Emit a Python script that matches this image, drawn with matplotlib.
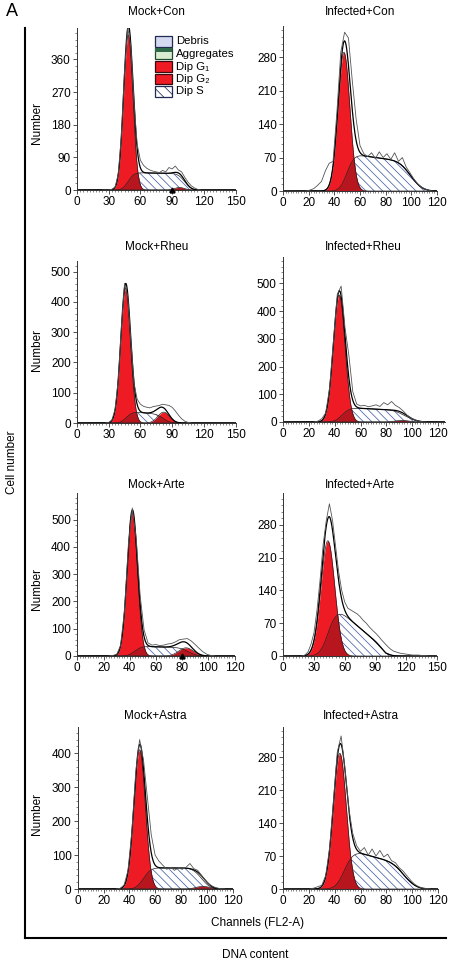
from math import erf

import numpy as np
import matplotlib.pyplot as plt
from matplotlib.patches import Rectangle
from matplotlib.lines import Line2D
from matplotlib.ticker import MultipleLocator, AutoMinorLocator

plt.rcParams['font.family'] = ['Liberation Sans', 'DejaVu Sans']
plt.rcParams['hatch.linewidth'] = 0.55

W, H = 450, 968

titles = ["Mock+Con", "Infected+Con", "Mock+Rheu", "Infected+Rheu",
          "Mock+Arte", "Infected+Arte", "Mock+Astra", "Infected+Astra"]

# axis ranges / tick steps
x_max = [150, 120, 150, 125, 120, 150, 120, 120]
x_step = [30, 20, 30, 20, 20, 30, 20, 20]
y_max = [448, 345, 535, 595, 598, 348, 477, 344]
y_step = [90, 70, 100, 100, 100, 70, 100, 70]

# model fit: G1 and G2 peaks (mean channel, height, sd)
g1 = [(48.5, 428, 4.4), (47.5, 290, 4.6), (46, 445, 4.6), (43.5, 458, 4.5),
      (42, 525, 3.9), (43.5, 246, 6.7), (48, 410, 4.4), (44, 288, 5.0)]
g2 = [(97, 7, 4.5), (100, 0, 5), (82, 36, 5.5), (92, 6, 5),
      (83, 30, 5.5), (95, 0, 5), (97, 8, 5), (95, 0, 5)]
# S phase: start ch, end ch, level at start, level at end, rise sd, fall sd
s_phase = [(48.5, 102, 48, 45, 4.4, 5), (50, 100, 78, 60, 4.5, 7),
           (47, 82, 38, 28, 4.5, 5), (46, 95, 52, 42, 4.5, 7),
           (44, 85, 36, 30, 4, 5), (45, 100, 115, 13, 7, 5),
           (51, 96, 62, 62, 4.5, 5.5), (48, 95, 85, 50, 5.5, 7)]

# raw histogram counts, every 3 channels from raw_start
raw_start = [24, 18, 27, 24, 24, 18, 30, 21]
raw_counts = [
    [0, 0, 0, 2, 8, 43, 150, 330, 448, 395, 239, 125, 82, 68, 60, 55, 52, 50,
     48, 54, 50, 62, 58, 66, 55, 50, 35, 22, 12, 6, 2, 0],
    [0, 2, 5, 12, 20, 42, 58, 62, 165, 290, 332, 320, 230, 150, 95, 78, 72,
     80, 68, 82, 70, 78, 66, 80, 62, 70, 50, 38, 25, 15, 8, 4, 1, 0],
    [0, 2, 10, 45, 140, 315, 461, 420, 270, 130, 78, 62, 55, 52, 50, 54, 56,
     58, 62, 60, 58, 52, 40, 26, 14, 6, 2, 0],
    [0, 3, 12, 32, 120, 290, 460, 490, 340, 240, 110, 65, 58, 60, 55, 58, 62,
     56, 70, 62, 74, 60, 52, 40, 25, 14, 8, 3, 1, 0],
    [0, 2, 6, 38, 165, 410, 543, 430, 220, 95, 48, 40, 42, 38, 40, 44, 46, 52,
     60, 62, 64, 55, 42, 28, 15, 6, 2, 0],
    [0, 2, 8, 25, 50, 100, 165, 240, 290, 325, 290, 235, 180, 140, 115, 102,
     98, 94, 90, 84, 76, 70, 62, 55, 49, 42, 34, 27, 20, 14, 10, 8, 6, 5, 4,
     3, 2, 2, 2, 1, 1, 0],
    [0, 2, 12, 55, 170, 345, 440, 380, 270, 160, 100, 82, 70, 58, 64, 55, 62,
     58, 64, 75, 60, 55, 40, 25, 14, 7, 3, 1, 0],
    [0, 2, 5, 8, 28, 85, 185, 290, 325, 255, 170, 118, 92, 80, 88, 72, 85, 70,
     82, 68, 74, 60, 56, 45, 38, 28, 18, 10, 5, 2, 1, 0],
]
marker_ch = [90, None, None, None, 80, None, None, None]

# panel boxes in pixels: left, top, right, bottom
boxes = [(77, 27.5, 235.5, 190), (283, 26, 437, 191),
         (77, 261, 235.5, 423), (283, 257, 444.5, 422),
         (77.3, 493, 234.5, 656), (283.3, 493, 437, 656),
         (77.7, 727, 232.5, 889), (283, 727, 438, 889)]
title_y = [12, 12, 247, 247, 485, 485, 716, 716]
number_y = [123, 350, 589, 814]

RED = '#ee1a24'
DARK_RED = '#b8161e'
HATCH = '#4a62a8'
FS = 8.5


def phi(z):
    return 0.5 * (1 + np.vectorize(erf)(z / np.sqrt(2)))


def gauss(x, m, h, sd):
    return h * np.exp(-0.5 * ((x - m) / sd) ** 2)


def s_curve(x, a, b, la, lb, sa, sb):
    lvl = np.interp(x, [a, b], [la, lb])
    return lvl * phi((x - a) / sa) * (1 - phi((x - b) / sb))


def fx(px):
    return px / W


def fy(py):
    return 1 - py / H


fig = plt.figure(figsize=(W / 100, H / 100), dpi=100)

for i in range(8):
    l, t, r, b = boxes[i]
    ax = fig.add_axes([fx(l), fy(b), (r - l) / W, (b - t) / H])
    x = np.linspace(0, x_max[i], 800)
    G1 = gauss(x, *g1[i])
    G2 = gauss(x, *g2[i])
    S = s_curve(x, *s_phase[i])

    ax.fill_between(x, 0, S, facecolor='white', edgecolor=HATCH,
                    hatch='\\\\\\\\', lw=0)
    ax.fill_between(x, 0, G1, color=RED, lw=0)
    ax.fill_between(x, 0, np.minimum(G1, S), color=DARK_RED, lw=0)
    if g2[i][1] > 0:
        ax.fill_between(x, 0, G2, color=RED, lw=0)
        ax.fill_between(x, 0, np.minimum(G2, S), color=DARK_RED, lw=0)
        ax.plot(x, G2, color='#222222', lw=0.5)
    ax.plot(x, G1, color='#222222', lw=0.5)
    ax.plot(x, S, color='#222222', lw=0.5)
    ax.plot(x, G1 + G2 + S, color='black', lw=0.9)

    rx = raw_start[i] + 3 * np.arange(len(raw_counts[i]))
    ax.plot(rx, raw_counts[i], color='#555555', lw=0.6)

    if marker_ch[i] is not None:
        ax.plot(marker_ch[i], 0, marker='^', ms=3.5, color='black',
                clip_on=False, zorder=5)

    ax.set_xlim(0, x_max[i])
    ax.set_ylim(0, y_max[i])
    ax.xaxis.set_major_locator(MultipleLocator(x_step[i]))
    ax.yaxis.set_major_locator(MultipleLocator(y_step[i]))
    ax.xaxis.set_minor_locator(AutoMinorLocator(10))
    ax.yaxis.set_minor_locator(AutoMinorLocator(5))
    for sp in ['top', 'right']:
        ax.spines[sp].set_visible(False)
    for sp in ['left', 'bottom']:
        ax.spines[sp].set_linewidth(0.7)
        ax.spines[sp].set_color('#333333')
    ax.tick_params(which='major', length=3, width=0.6, labelsize=FS,
                   pad=1.5, color='#333333')
    ax.tick_params(which='minor', length=1.5, width=0.5, color='#555555')
    ax.patch.set_alpha(0)

    fig.text(fx((l + r) / 2), fy(title_y[i]), titles[i], ha='center',
             va='center', fontsize=FS)
    if i % 2 == 0:
        fig.text(fx(37), fy(number_y[i // 2]), "Number", rotation=90,
                 ha='center', va='center', fontsize=FS)

# legend in first panel
leg_labels = ["Debris", "Aggregates", "Dip G\u2081", "Dip G\u2082", "Dip S"]
leg_face = ['#d6daf0', '#d8ecd0', RED, RED, 'white']
leg_edge = ['#1f2a55', '#1f4a30', '#3a0a0e', '#3a0a0e', '#1f2a55']
for k in range(5):
    top = 36 + 12.5 * k
    rect = Rectangle((fx(155), fy(top + 10.5)), 17 / W, 10.5 / H,
                     transform=fig.transFigure, facecolor=leg_face[k],
                     edgecolor=leg_edge[k], lw=0.9,
                     hatch='\\\\\\' if k == 4 else None, zorder=10)
    fig.add_artist(rect)
    fig.text(fx(176), fy(top + 5.5), leg_labels[k], ha='left', va='center',
             fontsize=8.2, zorder=10)
# dark green band on top of the aggregates box
fig.add_artist(Rectangle((fx(155), fy(48.5 + 3)), 17 / W, 3 / H,
                         transform=fig.transFigure, facecolor='#2f6a48',
                         edgecolor='none', zorder=11))

# outer frame and shared labels
fig.add_artist(Line2D([fx(25), fx(25)], [fy(28), fy(938)], color='black',
                      lw=1.5, transform=fig.transFigure))
fig.add_artist(Line2D([fx(25), fx(446)], [fy(938), fy(938)], color='black',
                      lw=1.5, transform=fig.transFigure))
fig.text(fx(11.5), fy(12), "A", ha='center', va='center', fontsize=13)
fig.text(fx(12), fy(462), "Cell number", rotation=90, ha='center',
         va='center', fontsize=FS)
fig.text(fx(258), fy(923), "Channels (FL2-A)", ha='center', va='center',
         fontsize=FS)
fig.text(fx(255), fy(955), "DNA content", ha='center', va='center',
         fontsize=FS)

fig.savefig('out.png', dpi=100)
